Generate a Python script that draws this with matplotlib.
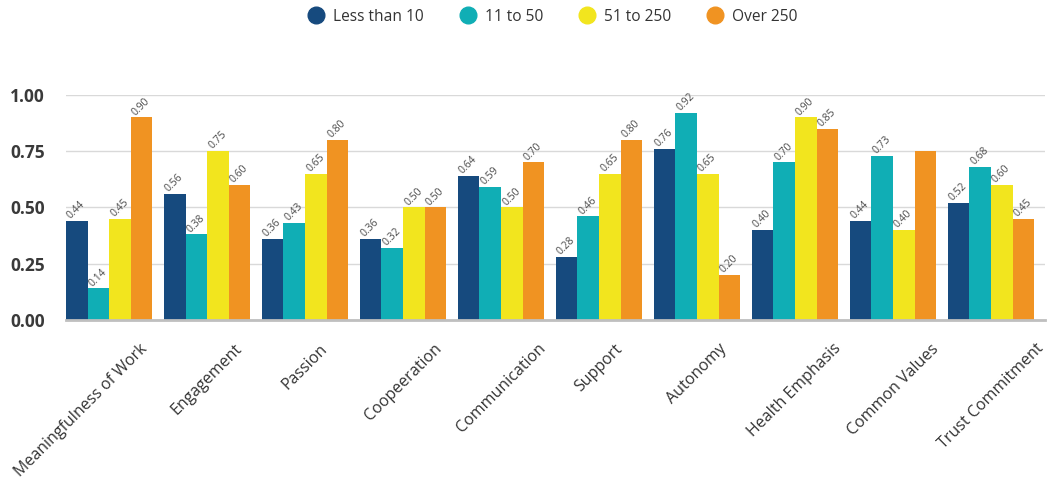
import numpy as np
import matplotlib.pyplot as plt
import matplotlib.transforms as mtransforms
from matplotlib.lines import Line2D

plt.rcParams['font.family'] = ['Open Sans', 'DejaVu Sans']

categories = ["Meaningfulness of Work", "Engagement", "Passion", "Coopeeration",
              "Communication", "Support", "Autonomy", "Health Emphasis",
              "Common Values", "Trust Commitment"]
series_names = ["Less than 10", "11 to 50", "51 to 250", "Over 250"]

less_than_10 = [0.44, 0.56, 0.36, 0.36, 0.64, 0.28, 0.76, 0.40, 0.44, 0.52]
from_11_to_50 = [0.14, 0.38, 0.43, 0.32, 0.59, 0.46, 0.92, 0.70, 0.73, 0.68]
from_51_to_250 = [0.45, 0.75, 0.65, 0.50, 0.50, 0.65, 0.65, 0.90, 0.40, 0.60]
over_250 = [0.90, 0.60, 0.80, 0.50, 0.70, 0.80, 0.20, 0.85, 0.75, 0.45]
# Common Values / Over 250 carries no value label
unlabeled = {(3, 8)}

series = [less_than_10, from_11_to_50, from_51_to_250, over_250]
colors = ["#164A7E", "#10AEB5", "#F2E51E", "#F09322"]

fig = plt.figure(figsize=(10.64, 4.84), dpi=100)
ax = fig.add_axes([0.062, 0.339, 0.920, 0.465])

x = np.arange(len(categories))
w = 0.22
nudge = mtransforms.ScaledTranslation(5 / 100, 0, fig.dpi_scale_trans)
for i, (vals, col) in enumerate(zip(series, colors)):
    left = x - 2 * w + i * w
    ax.bar(left, vals, width=w, align='edge', color=col, zorder=3)
    for j, v in enumerate(vals):
        if (i, j) in unlabeled:
            continue
        ax.text(left[j], v + 0.008, f"{v:.2f}", rotation=45,
                rotation_mode='anchor', ha='left', va='baseline',
                fontsize=7.5, color='#4A4A4A', clip_on=False, zorder=4,
                transform=ax.transData + nudge)

ax.set_xlim(-0.44, 9.55)
ax.set_ylim(0, 1.0)
yt = [0, 0.25, 0.5, 0.75, 1.0]
ax.set_yticks(yt)
ax.set_yticklabels([f"{t:.2f}" for t in yt],
                   fontsize=12.5, fontweight='bold', color='#3A3A3A')
ax.yaxis.grid(True, color='#D9D9D9', lw=1, zorder=0)
ax.tick_params(axis='y', length=0, pad=15)
ax.tick_params(axis='x', length=0)
for s in ['top', 'right', 'left']:
    ax.spines[s].set_visible(False)
ax.spines['bottom'].set_color('#BFBFBF')
ax.spines['bottom'].set_linewidth(2)
ax.spines['bottom'].set_zorder(5)

ax.set_xticks(x)
ax.set_xticklabels(categories, rotation=45, ha='center', va='top',
                   fontsize=11.5, color='#333333')
for k, lbl in enumerate(ax.get_xticklabels()):
    dx = -28 if k == 0 else 0
    shift = mtransforms.ScaledTranslation(dx / 100, -16 / 100, fig.dpi_scale_trans)
    lbl.set_transform(lbl.get_transform() + shift)

handles = [Line2D([], [], ls='none', marker='o', markersize=12, color=c)
           for c in colors]
fig.legend(handles, series_names, loc='center', bbox_to_anchor=(0.516, 0.965),
           ncol=4, frameon=False, fontsize=11.2, handletextpad=0.1,
           columnspacing=1.8, labelcolor='#333333')

fig.savefig("out.png", dpi=100)
